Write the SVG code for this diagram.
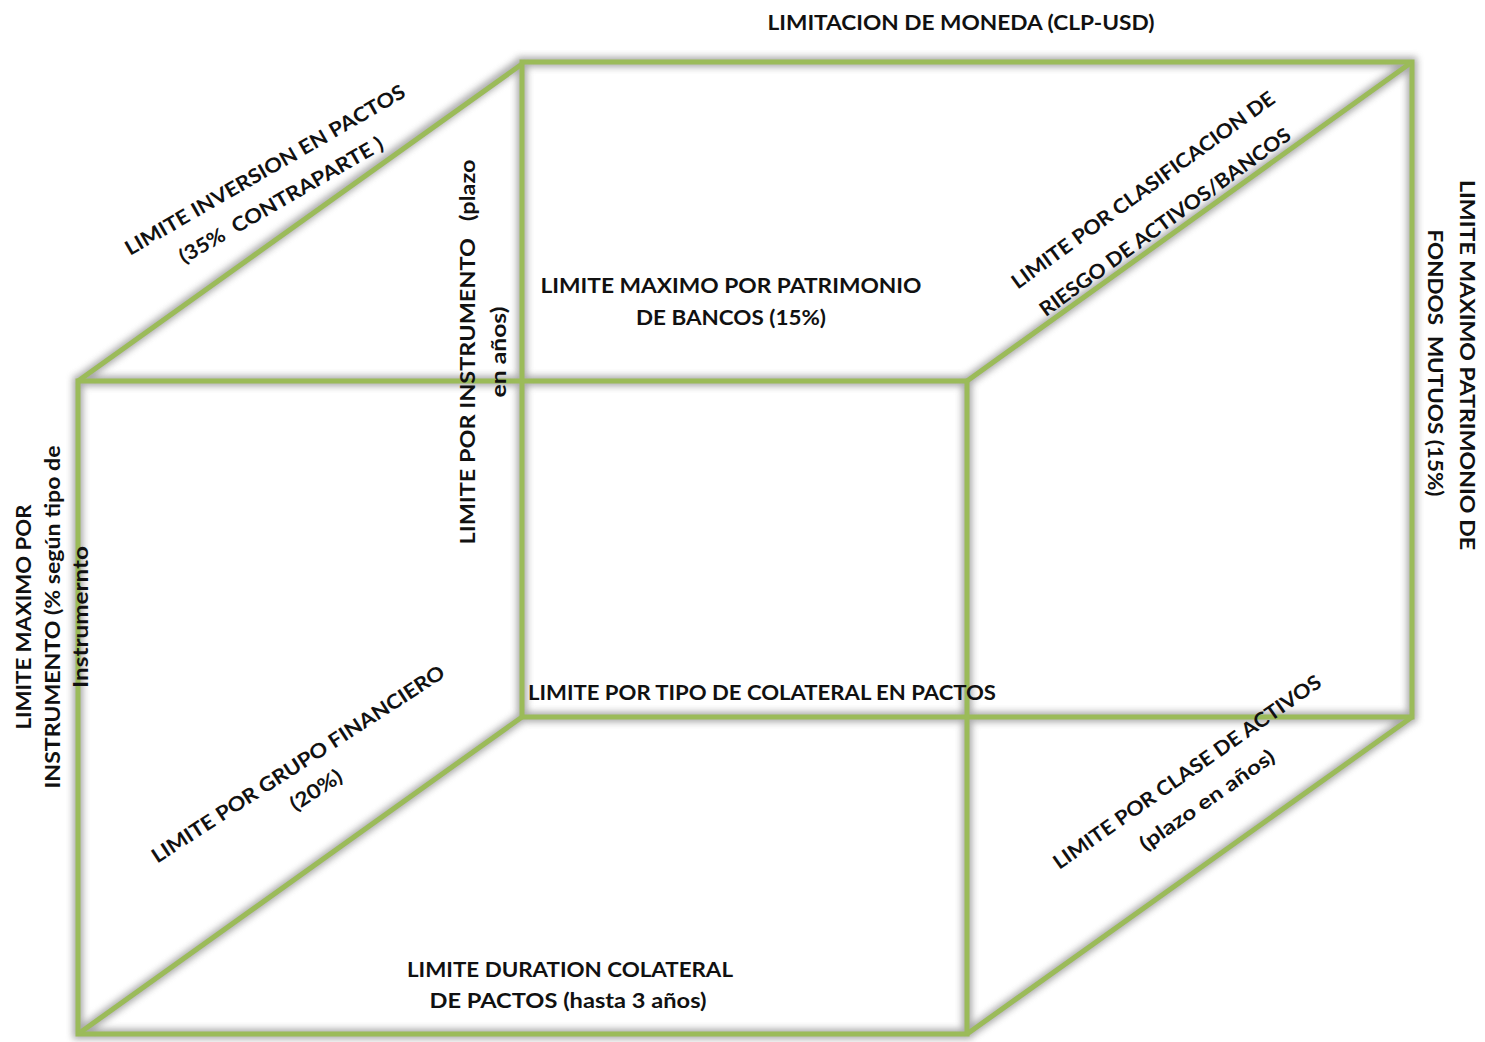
<svg xmlns="http://www.w3.org/2000/svg" width="1485" height="1042" viewBox="0 0 1485 1042">
<style>
.t{font-family:Lato,"Open Sans","Liberation Sans",sans-serif;font-weight:700;font-size:20px;fill:#111111;white-space:pre}
.m{text-anchor:middle}
.edge{fill:none;stroke:#9BBB59;stroke-width:5;stroke-linejoin:miter}
.shadow{fill:none;stroke:#7a7a7a;stroke-width:10;opacity:0.65}
</style>
<defs>
<filter id="blur" x="-10%" y="-10%" width="120%" height="120%"><feGaussianBlur stdDeviation="3.5"/></filter>
</defs>
<rect width="1485" height="1042" fill="#ffffff"/>
<g id="connectors">
<g filter="url(#blur)" class="shadow">
<path d="M522,62 H1412 V717 H522 Z"/>
<path d="M78,381 H967 V1034 H78 Z"/>
<path d="M78,381 L522,62 M967,381 L1412,62 M967,1034 L1412,717 M78,1034 L522,717"/>
</g>
<path class="edge" d="M522,62 H1412 V717 H522 Z"/>
<path class="edge" d="M78,381 H967 V1034 H78 Z"/>
<path class="edge" d="M78,381 L522,64 M967,381 L1412,62 M967,1034 L1412,717 M78,1034 L522,717"/>
</g>
<g id="moneda"><text class="t m" x="961" y="30" textLength="387" lengthAdjust="spacingAndGlyphs">LIMITACION DE MONEDA (CLP-USD)</text></g>
<g id="patrimonio-bancos">
<text class="t m" x="731" y="293" textLength="381" lengthAdjust="spacingAndGlyphs">LIMITE MAXIMO POR PATRIMONIO</text>
<text class="t m" x="731" y="325" textLength="190" lengthAdjust="spacingAndGlyphs">DE BANCOS (15%)</text>
</g>
<g id="colateral"><text class="t" x="528" y="700" textLength="468" lengthAdjust="spacingAndGlyphs">LIMITE POR TIPO DE COLATERAL EN PACTOS</text></g>
<g id="duration">
<text class="t m" x="570" y="977" textLength="326" lengthAdjust="spacingAndGlyphs">LIMITE DURATION COLATERAL</text>
<text class="t m" x="568" y="1008" textLength="277" lengthAdjust="spacingAndGlyphs">DE PACTOS (hasta 3 años)</text>
</g>
<g id="instrumento-plazo" transform="translate(475,352) rotate(-90)">
<text class="t m" x="0" y="0" textLength="385" lengthAdjust="spacingAndGlyphs">LIMITE POR INSTRUMENTO   (plazo</text>
<text class="t m" x="0" y="31" textLength="91" lengthAdjust="spacingAndGlyphs">en años)</text>
</g>
<g id="maximo-instrumento" transform="translate(31,617) rotate(-90)">
<text class="t m" x="0" y="0" textLength="225" lengthAdjust="spacingAndGlyphs">LIMITE MAXIMO POR</text>
<text class="t m" x="0" y="29" textLength="343" lengthAdjust="spacingAndGlyphs">INSTRUMENTO (% según tipo de</text>
<text class="t m" x="0" y="57" textLength="142" lengthAdjust="spacingAndGlyphs">Instrumernto</text>
</g>
<g id="patrimonio-fondos" transform="translate(1460,365) rotate(90)">
<text class="t m" x="0" y="0" textLength="370" lengthAdjust="spacingAndGlyphs">LIMITE MAXIMO PATRIMONIO DE</text>
<text class="t m" x="-2" y="32" textLength="267" lengthAdjust="spacingAndGlyphs">FONDOS  MUTUOS (15%)</text>
</g>
<g id="inversion-pactos">
<text class="t m" transform="translate(265,170) rotate(-30)" dy="0.35em" textLength="320" lengthAdjust="spacingAndGlyphs">LIMITE INVERSION EN PACTOS</text>
<text class="t m" transform="translate(281,200) rotate(-30)" dy="0.35em" textLength="232" lengthAdjust="spacingAndGlyphs">(35%  CONTRAPARTE )</text>
</g>
<g id="clasificacion-riesgo">
<text class="t m" transform="translate(1143,190) rotate(-36)" dy="0.35em" textLength="320" lengthAdjust="spacingAndGlyphs">LIMITE POR CLASIFICACION DE</text>
<text class="t m" transform="translate(1165,222) rotate(-36)" dy="0.35em" textLength="305" lengthAdjust="spacingAndGlyphs">RIESGO DE ACTIVOS/BANCOS</text>
</g>
<g id="grupo-financiero">
<text class="t m" transform="translate(298,764) rotate(-33)" dy="0.35em" textLength="345" lengthAdjust="spacingAndGlyphs">LIMITE POR GRUPO FINANCIERO</text>
<text class="t m" transform="translate(316,790) rotate(-33)" dy="0.35em" textLength="58" lengthAdjust="spacingAndGlyphs">(20%)</text>
</g>
<g id="clase-activos">
<text class="t m" transform="translate(1187,772) rotate(-35)" dy="0.35em" textLength="322" lengthAdjust="spacingAndGlyphs">LIMITE POR CLASE DE ACTIVOS</text>
<text class="t m" transform="translate(1207,800) rotate(-35)" dy="0.35em" textLength="160" lengthAdjust="spacingAndGlyphs">(plazo en años)</text>
</g>
</svg>
